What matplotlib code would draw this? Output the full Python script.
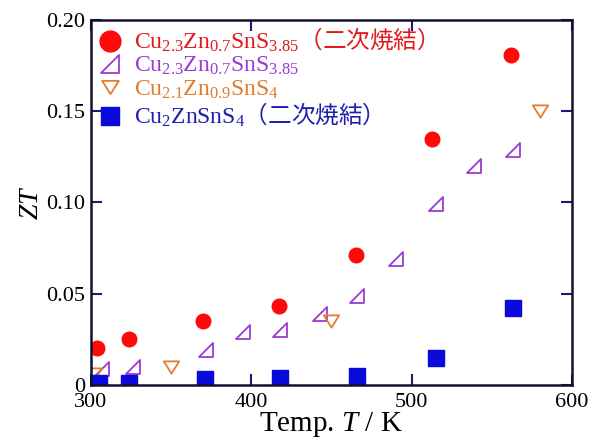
import matplotlib
matplotlib.use("Agg")
import matplotlib.pyplot as plt
from matplotlib.path import Path
from matplotlib.ticker import FuncFormatter

plt.rcParams['mathtext.fontset'] = 'custom'
plt.rcParams['mathtext.rm'] = 'Liberation Serif'
plt.rcParams['mathtext.it'] = 'Liberation Serif:italic'
plt.rcParams['font.family'] = ['Liberation Serif', 'Noto Sans CJK JP']

# Data
T_red = [304, 324, 370, 417, 465, 513, 562]
ZT_red = [0.020, 0.025, 0.035, 0.043, 0.071, 0.135, 0.181]

T_purple = [307, 326, 372, 395, 418, 443, 466, 490, 515, 539, 563]
ZT_purple = [0.009, 0.010, 0.019, 0.029, 0.030, 0.039, 0.049, 0.069, 0.099, 0.120, 0.129]

T_orange = [302, 350, 450, 580]
ZT_orange = [0.006, 0.010, 0.035, 0.150]

T_blue = [305, 324, 371, 418, 466, 515, 563]
ZT_blue = [0.001, 0.001, 0.003, 0.004, 0.005, 0.015, 0.042]

labels = [
    r'$\mathrm{Cu_{2.3}Zn_{0.7}SnS_{3.85}}$（二次焼結）',
    r'$\mathrm{Cu_{2.3}Zn_{0.7}SnS_{3.85}}$',
    r'$\mathrm{Cu_{2.1}Zn_{0.9}SnS_{4}}$',
    r'$\mathrm{Cu_{2}ZnSnS_{4}}$（二次焼結）',
]
xticks = [300, 400, 500, 600]
yticks = [0, 0.05, 0.10, 0.15, 0.20]

red = '#ff0a0a'
purple = '#9a3ad6'
orange = '#e57a30'
blue = '#0a0adc'
navy = '#1a1a7a'

tri_path = Path([(-1, -1), (1, -1), (1, 1), (-1, -1)],
                [Path.MOVETO, Path.LINETO, Path.LINETO, Path.CLOSEPOLY])
down_path = Path([(-1, 0.8), (1, 0.8), (0, -0.8), (-1, 0.8)],
                 [Path.MOVETO, Path.LINETO, Path.LINETO, Path.CLOSEPOLY])

fig = plt.figure(figsize=(5.89, 4.44), dpi=100)
ax = fig.add_axes([0.1545, 0.133, 0.8165, 0.822])

ax.plot(T_red, ZT_red, linestyle='none', marker='o', ms=10.5, color=red,
        mec=red, label=labels[0])
ax.plot(T_purple, ZT_purple, linestyle='none', marker=tri_path, ms=10,
        mfc='none', mec=purple, mew=1.3, label=labels[1])
ax.plot(T_orange, ZT_orange, linestyle='none', marker=down_path, ms=11,
        mfc='none', mec=orange, mew=1.3, label=labels[2])
ax.plot(T_blue, ZT_blue, linestyle='none', marker='s', ms=11.5, color=blue,
        mec=blue, label=labels[3])

ax.set_xlim(300, 600)
ax.set_ylim(0, 0.20)
ax.set_xticks(xticks)
ax.set_yticks(yticks)
ax.yaxis.set_major_formatter(FuncFormatter(lambda v, p: '0' if v == 0 else f'{v:.2f}'))
ax.tick_params(direction='in', length=8, width=1.5, color=navy,
               top=True, right=True, labelsize=16, pad=4)
ax.tick_params(axis='x', pad=6)
for s in ax.spines.values():
    s.set_linewidth(1.8)
    s.set_color('#101030')

ax.set_xlabel(r'Temp. $T$ / K', fontsize=21, labelpad=-2)
ax.set_ylabel(r'$ZT$', fontsize=20, labelpad=2)

leg = ax.legend(loc='upper left', frameon=False,
                labelcolor=['#e01818', '#9a3ad6', '#e07a2a', '#1c1cb0'],
                handlelength=1.1, handletextpad=0.45, labelspacing=0.0,
                borderaxespad=0.05, borderpad=0.2,
                prop={'family': ['Noto Sans CJK JP'], 'size': 17})
for h, ms in zip(leg.legend_handles, [15, 13, 12, 13]):
    h.set_markersize(ms)

fig.savefig('out.png', dpi=100)
